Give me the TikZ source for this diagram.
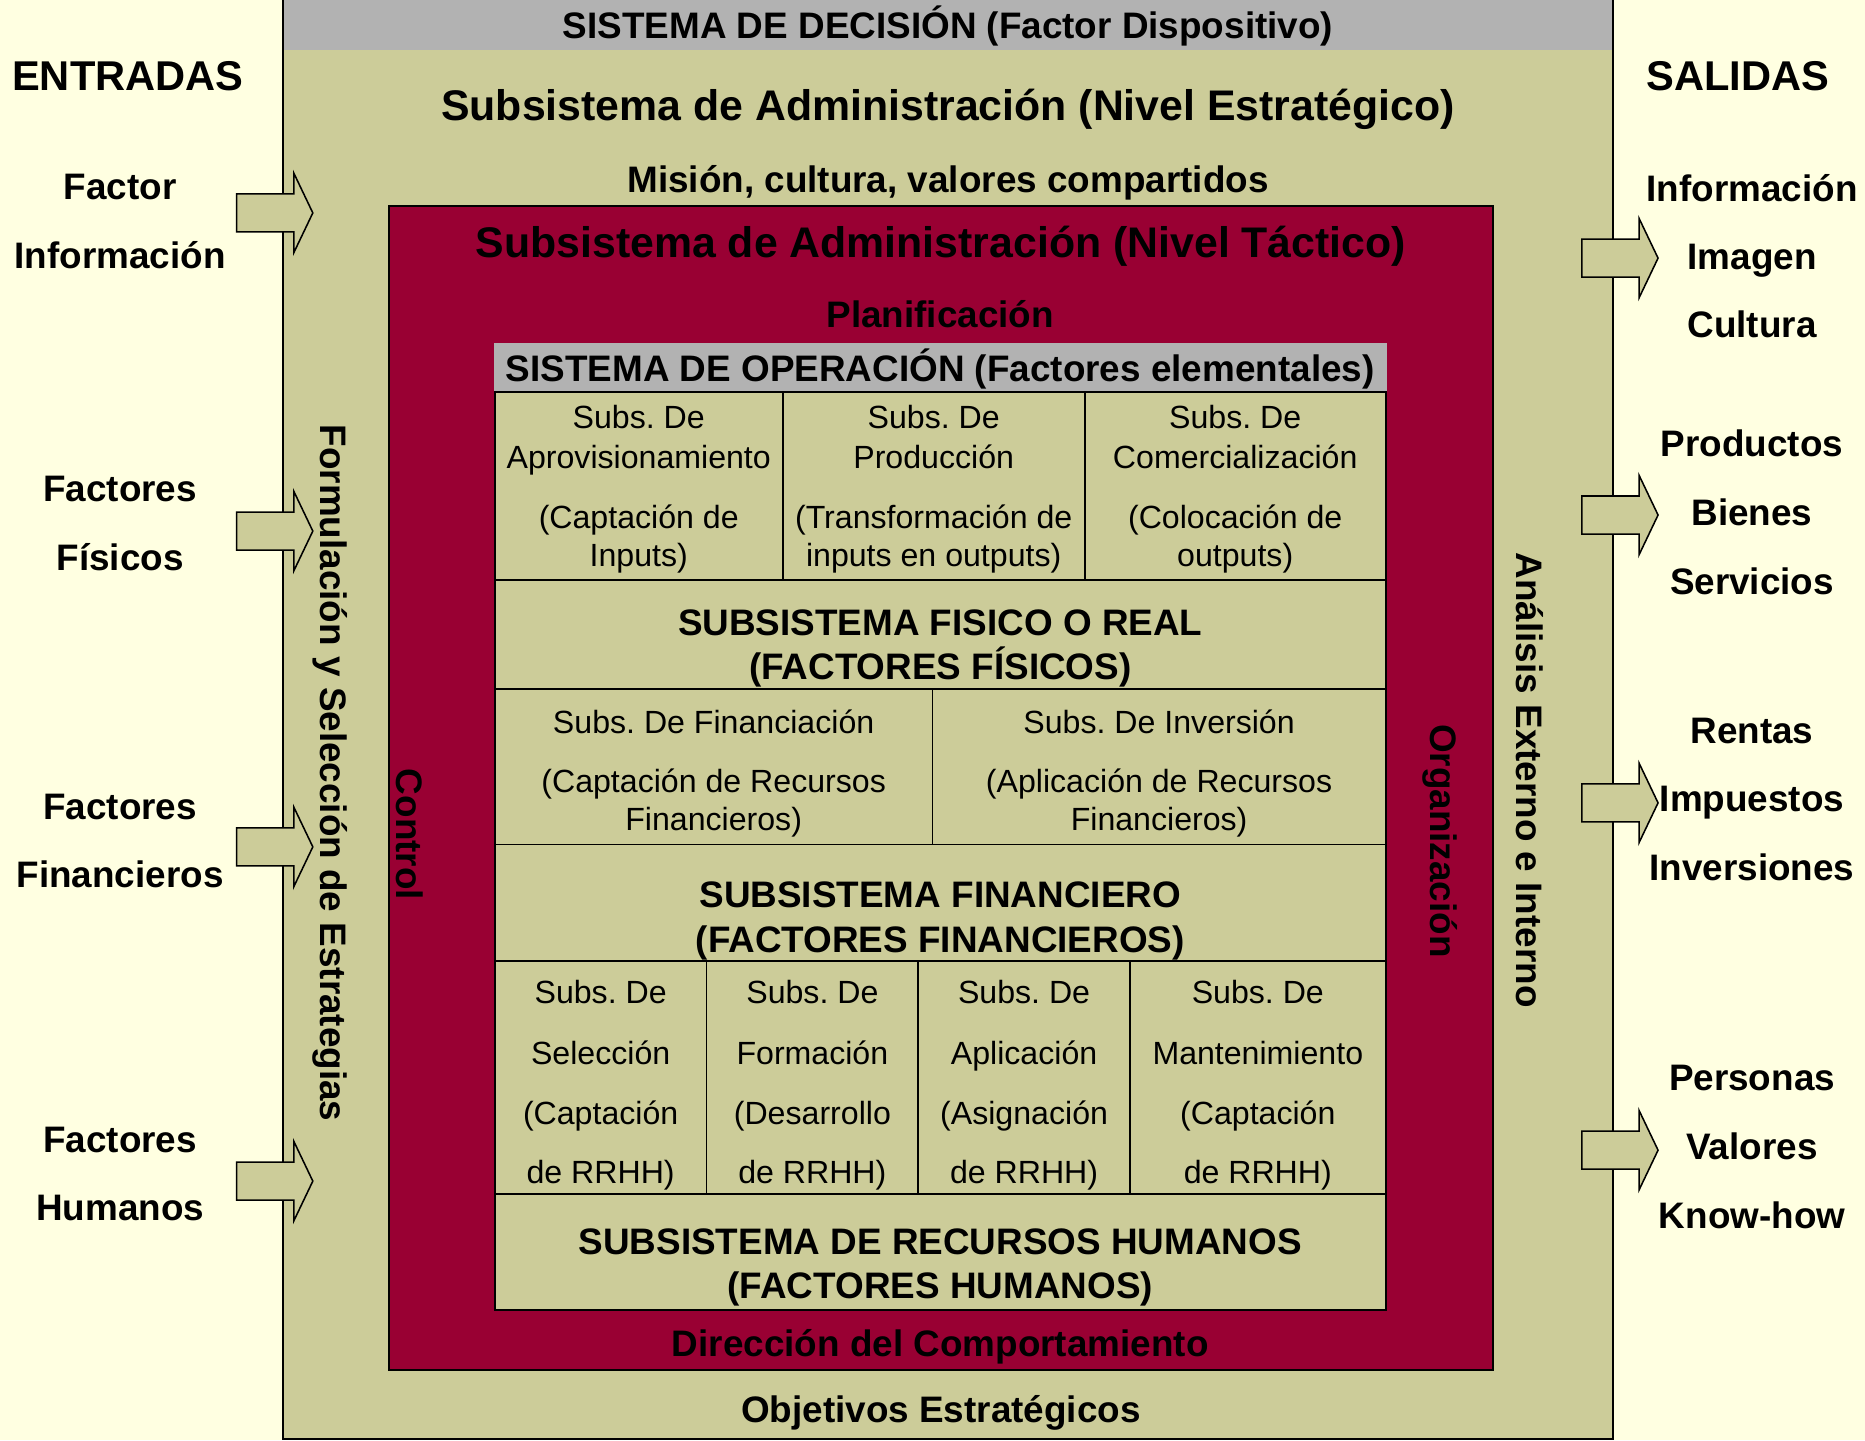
\documentclass[tikz,border=0pt]{standalone}
\usepackage{fontspec}
\setmainfont{Liberation Sans}
\frenchspacing
\definecolor{paper}{HTML}{FFFFE1}
\definecolor{tanbox}{HTML}{CCCC99}
\definecolor{wine}{HTML}{990033}
\definecolor{headgray}{HTML}{B2B2B2}
\tikzset{
  lbl/.style={anchor=base, inner sep=0pt, font=\bfseries\fontsize{31}{37}\selectfont},
  big/.style={lbl, font=\bfseries\fontsize{36}{42}\selectfont},
  cell/.style={anchor=base, inner sep=0pt, font=\fontsize{27}{32}\selectfont},
  frame/.style={draw=black, line width=1.6pt},
  arrowbox/.style={draw=black, line width=1.3pt, fill=tanbox, line join=miter},
  pics/blockarrow/.style={code={
    \draw[arrowbox] (0,-16) -- (48,-16) -- (48,-33.5) -- (64,0) -- (48,33.5) -- (48,16) -- (0,16) -- cycle;}}
}
\begin{document}
\begin{tikzpicture}[x=1pt, y=-1pt]
    \fill[paper] (0,0) rectangle (1568,1211);
    \useasboundingbox (0,0) rectangle (1568,1211);
    % Sistema de decision (nivel estrategico)
    \fill[tanbox] (238,0) rectangle (1356,1210);
    \fill[headgray] (238,0) rectangle (1356,42);
    \draw[frame] (238,0) -- (238,1210) -- (1356,1210) -- (1356,0);
    % Nivel tactico
    \draw[frame, fill=wine] (327,173) rectangle (1255,1152);
    % Sistema de operacion
    \fill[headgray] (415,288.5) rectangle (1166,329.5);
    \draw[frame, fill=tanbox] (416,329.5) rectangle (1165,1101);
    \foreach \y in {488,579,710,808,1004} \draw[frame] (416,\y) -- (1165,\y);
    \foreach \x in {658,912} \draw[frame] (\x,329.5) -- (\x,488);
    \draw[frame] (784,579) -- (784,710);
    \foreach \x in {594,772,950} \draw[frame] (\x,808) -- (\x,1004);
    % entradas y salidas
    \foreach \y in {179,446.5,712,993} \pic at (199,\y) {blockarrow};
    \foreach \y in {217,433,675,967} \pic at (1330,\y) {blockarrow};

    \node[lbl] (decision) at (797,32) {SISTEMA DE DECISIÓN (Factor Dispositivo)};
    \node[big] (estrategico) at (797,101.5) {Subsistema de Administración (Nivel Estratégico)};
    \node[lbl] (mision) at (797,161.5) {Misión, cultura, valores compartidos};
    \node[big] (tactico) at (791,216.5) {Subsistema de Administración (Nivel Táctico)};
    \node[lbl] (planif) at (790.5,275.5) {Planificación};
    \node[lbl] (operacion) at (790.5,321) {SISTEMA DE OPERACIÓN (Factores elementales)};
    \node[lbl] (comport) at (790.5,1140.5) {Dirección del Comportamiento};
    \node[lbl] (objetivos) at (791,1196) {Objetivos Estratégicos};

    \node[lbl, rotate=-90] (formul) at (269.5,650) {Formulación y Selección de Estrategias};
    \node[lbl, rotate=-90] (control) at (333.5,701.5) {Control};
    \node[lbl, rotate=-90] (organiz) at (1202.5,707) {Organización};
    \node[lbl, rotate=-90] (analisis) at (1275,656) {Análisis Externo e Interno};

    % subsistemas fisicos
    \foreach \x/\a/\b/\c/\d [count=\i] in {537/Subs. De/Aprovisionamiento/(Captación de/Inputs),
        785/Subs. De/Producción/(Transformación de/inputs en outputs),
        1038.5/Subs. De/Comercialización/(Colocación de/outputs)} {
      \node[cell] (fis\i a) at (\x,360.5) {\a};
      \node[cell] (fis\i b) at (\x,393.5) {\b};
      \node[cell] (fis\i c) at (\x,444.5) {\c};
      \node[cell] (fis\i d) at (\x,476.5) {\d};
    }
    \node[lbl] (fisico) at (790.5,534) {SUBSISTEMA FISICO O REAL};
    \node[lbl] (fisicob) at (790.5,571) {(FACTORES FÍSICOS)};

    % subsistemas financieros
    \foreach \x/\a/\b/\c [count=\i] in {600/Subs. De Financiación/(Captación de Recursos/Financieros),
        974.5/Subs. De Inversión/(Aplicación de Recursos/Financieros)} {
      \node[cell] (fin\i a) at (\x,616.5) {\a};
      \node[cell] (fin\i b) at (\x,666.5) {\b};
      \node[cell] (fin\i c) at (\x,698.5) {\c};
    }
    \node[lbl] (financ) at (790.5,763) {SUBSISTEMA FINANCIERO};
    \node[lbl] (financb) at (790.5,801) {(FACTORES FINANCIEROS)};

    % subsistemas de recursos humanos
    \foreach \x/\b/\c [count=\i] in {505/Selección/(Captación, 683/Formación/(Desarrollo,
        861/Aplicación/(Asignación, 1057.5/Mantenimiento/(Captación} {
      \node[cell] (rh\i a) at (\x,844) {Subs. De};
      \node[cell] (rh\i b) at (\x,895) {\b};
      \node[cell] (rh\i c) at (\x,945) {\c};
      \node[cell] (rh\i d) at (\x,995) {de RRHH)};
    }
    \node[lbl] (rrhh) at (790.5,1054.5) {SUBSISTEMA DE RECURSOS HUMANOS};
    \node[lbl] (rrhhb) at (790.5,1092) {(FACTORES HUMANOS)};

    % entradas
    \node[big, font=\bfseries\fontsize{35}{41}\selectfont] (entradas) at (107.5,76) {ENTRADAS};
    \foreach \t/\y [count=\i] in {Factor/167.5, Información/225.5, Factores/422, Físicos/479.5,
        Factores/689, Financieros/746.5, Factores/969, Humanos/1026}
      \node[lbl] (in\i) at (101,\y) {\t};

    % salidas
    \node[big, font=\bfseries\fontsize{35}{41}\selectfont] (salidas) at (1461,76) {SALIDAS};
    \foreach \t/\y [count=\i] in {Información/169, Imagen/226.5, Cultura/284,
        Productos/383.5, Bienes/441.5, Servicios/499.5,
        Rentas/625, Impuestos/682, Inversiones/740,
        Personas/917, Valores/975, Know-how/1032.5}
      \node[lbl] (out\i) at (1473,\y) {\t};
\end{tikzpicture}
\end{document}
